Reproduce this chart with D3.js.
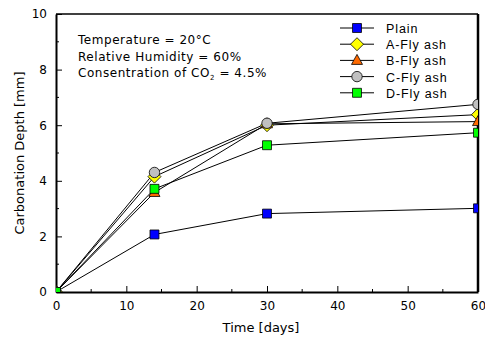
<!DOCTYPE html>
<html>
<head>
<meta charset="utf-8">
<script src="https://cdn.jsdelivr.net/npm/d3@7"></script>
<style>
  body { margin: 0; background: #fff; }
  text { font-family: "DejaVu Sans", sans-serif; }
</style>
</head>
<body>
<div id="chart"></div>
<script>
// Data
const days = [0, 14, 30, 60];
const plain = [0, 2.07, 2.82, 3.01];
const flyA = [0, 4.15, 6.0, 6.38];
const flyB = [0, 3.58, 6.05, 6.13];
const flyC = [0, 4.3, 6.07, 6.75];
const flyD = [0, 3.71, 5.28, 5.73];
const seriesNames = ["Plain", "A-Fly ash", "B-Fly ash", "C-Fly ash", "D-Fly ash"];
const xTicks = [0, 10, 20, 30, 40, 50, 60];
const yTicks = [0, 2, 4, 6, 8, 10];

const width = 485;
const height = 339;
const margin = { top: 14, right: 7, bottom: 47, left: 56 };
const chartWidth = width - margin.left - margin.right;
const chartHeight = height - margin.top - margin.bottom;

const series = [
  { name: seriesNames[0], values: plain, shape: "square", fill: "#0000ff" },
  { name: seriesNames[1], values: flyA, shape: "diamond", fill: "#ffff00" },
  { name: seriesNames[2], values: flyB, shape: "triangle", fill: "#ff6a00" },
  { name: seriesNames[3], values: flyC, shape: "circle", fill: "#c0c0c0" },
  { name: seriesNames[4], values: flyD, shape: "square", fill: "#00ff00" }
];

const svg = d3.select("#chart").append("svg")
  .attr("width", width).attr("height", height);

const g = svg.append("g")
  .attr("transform", `translate(${margin.left}, ${margin.top})`);

const xScale = d3.scaleLinear().domain([0, 60]).range([0, chartWidth]);
const yScale = d3.scaleLinear().domain([0, 10]).range([chartHeight, 0]);

// clip for markers at the frame edges
svg.append("defs").append("clipPath").attr("id", "plotclip")
  .append("rect").attr("width", chartWidth).attr("height", chartHeight);

// minor ticks (inward)
const minorX = d3.range(5, 60, 10);
const minorY = d3.range(1, 10, 2);
g.selectAll(".mx").data(minorX).enter().append("line")
  .attr("x1", d => xScale(d)).attr("x2", d => xScale(d))
  .attr("y1", chartHeight).attr("y2", chartHeight - 3)
  .attr("stroke", "#000");
g.selectAll(".my").data(minorY).enter().append("line")
  .attr("x1", 0).attr("x2", 3)
  .attr("y1", d => yScale(d)).attr("y2", d => yScale(d))
  .attr("stroke", "#000");

// axes
const xAxis = g.append("g")
  .attr("transform", `translate(0, ${chartHeight})`)
  .call(d3.axisBottom(xScale).tickValues(xTicks).tickSizeInner(-6).tickSizeOuter(0).tickPadding(9));
const yAxis = g.append("g")
  .call(d3.axisLeft(yScale).tickValues(yTicks).tickSizeInner(-6).tickSizeOuter(0).tickPadding(9));
[xAxis, yAxis].forEach(a => {
  a.select(".domain").attr("stroke-width", 2);
  a.selectAll("text").style("font-size", "12px").attr("fill", "#000")
    .style("font-family", "'DejaVu Sans', sans-serif");
});

// frame top/right
g.append("line").attr("x1", 0).attr("x2", chartWidth).attr("y1", 0).attr("y2", 0)
  .attr("stroke", "#000").attr("stroke-width", 1.5);
g.append("line").attr("x1", chartWidth).attr("x2", chartWidth).attr("y1", 0).attr("y2", chartHeight)
  .attr("stroke", "#000").attr("stroke-width", 2.5);

// marker path helper
function shapePath(shape) {
  if (shape === "square") return d3.symbol(d3.symbolSquare, 80)();
  if (shape === "diamond") return "M0,-6.5L6.5,0L0,6.5L-6.5,0Z";
  if (shape === "triangle") return "M0,-6L5.5,4L-5.5,4Z";
  return d3.symbol(d3.symbolCircle, 85)();
}

const line = d3.line()
  .x((d, i) => xScale(days[i]))
  .y(d => yScale(d));

const plot = g.append("g").attr("clip-path", "url(#plotclip)");
series.forEach(s => {
  plot.append("path").datum(s.values)
    .attr("fill", "none").attr("stroke", "#000").attr("stroke-width", 1)
    .attr("d", line);
});
series.forEach(s => {
  plot.selectAll(null).data(s.values).enter().append("path")
    .attr("d", shapePath(s.shape))
    .attr("transform", (d, i) => `translate(${xScale(days[i])}, ${yScale(d)})`)
    .attr("fill", s.fill).attr("stroke", "#000").attr("stroke-width", 0.8);
});

// legend
const legend = svg.append("g").attr("transform", "translate(340, 28)");
series.forEach((s, i) => {
  const row = legend.append("g").attr("transform", `translate(0, ${i * 16.2})`);
  row.append("line").attr("x1", 0).attr("x2", 34).attr("stroke", "#000");
  row.append("path").attr("d", shapePath(s.shape))
    .attr("transform", "translate(17, 0)")
    .attr("fill", s.fill).attr("stroke", "#000").attr("stroke-width", 0.8);
  row.append("text").attr("x", 46).attr("y", 5)
    .style("font-family", "'Liberation Sans', Arial, sans-serif")
    .style("font-size", "12.5px").style("letter-spacing", "0.9px")
    .text(s.name);
});

// conditions annotation
const note = svg.append("g")
  .style("font-family", "'Liberation Sans', Arial, sans-serif")
  .style("font-size", "12px").style("letter-spacing", "0.55px");
note.append("text").attr("x", 78).attr("y", 44).text("Temperature = 20\u00B0C");
note.append("text").attr("x", 78).attr("y", 61).text("Relative Humidity = 60%");
const co2 = note.append("text").attr("x", 78).attr("y", 77);
co2.append("tspan").text("Consentration of CO");
co2.append("tspan").attr("dy", 3).style("font-size", "7px").text("2");
co2.append("tspan").attr("dy", -3).text(" = 4.5%");

// axis titles
svg.append("text")
  .attr("x", 261).attr("y", 332)
  .attr("text-anchor", "middle").style("font-size", "13px")
  .text("Time [days]");
svg.append("text")
  .attr("transform", `translate(24, ${margin.top + chartHeight / 2}) rotate(-90)`)
  .attr("text-anchor", "middle").style("font-size", "13px")
  .text("Carbonation Depth [mm]");
</script>
</body>
</html>
